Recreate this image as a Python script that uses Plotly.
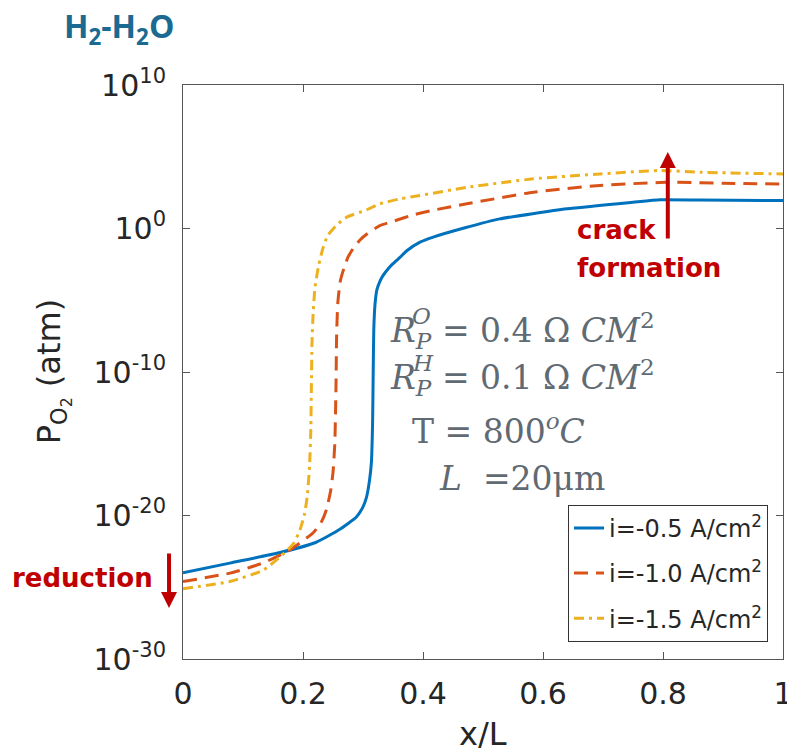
import plotly.graph_objects as go

# ---- data (x/L, log10 of P_O2 in atm) ----
x_05 = [0, 0.08, 0.16, 0.22, 0.26, 0.289, 0.300, 0.306, 0.311, 0.314, 0.316, 0.317, 0.318, 0.320, 0.323, 0.328, 0.333,
        0.342, 0.35, 0.362, 0.373, 0.395, 0.417, 0.47, 0.528, 0.64, 0.75, 0.795, 0.86, 1.0]
logp_05 = [-24.0, -23.3, -22.6, -21.9, -21.0, -20.1, -19.4, -18.7, -17.5, -16.3, -13.5, -10.0, -7.0, -5.3, -4.3, -3.7, -3.3,
           -2.8, -2.45, -2.0, -1.55, -0.95, -0.6, 0.05, 0.67, 1.37, 1.83, 2.0, 1.98, 1.95]

x_10 = [0, 0.08, 0.134, 0.178, 0.217, 0.23, 0.239, 0.246, 0.25, 0.253, 0.255, 0.256, 0.258, 0.262, 0.268, 0.275,
        0.285, 0.295, 0.306, 0.328, 0.35, 0.384, 0.42, 0.473, 0.584, 0.695, 0.806, 0.9, 1.0]
logp_10 = [-24.6, -24.0, -23.3, -22.4, -21.2, -20.5, -19.6, -18.3, -17.0, -15.0, -11.0, -7.5, -5.2, -3.7, -2.8, -2.0,
           -1.3, -0.8, -0.4, 0.2, 0.5, 0.95, 1.3, 1.72, 2.53, 3.0, 3.22, 3.15, 3.1]

x_15 = [0, 0.078, 0.134, 0.172, 0.185, 0.195, 0.202, 0.207, 0.211, 0.213, 0.214, 0.215, 0.217, 0.220, 0.226, 0.233,
        0.241, 0.256, 0.273, 0.306, 0.328, 0.362, 0.395, 0.473, 0.584, 0.695, 0.795, 0.862, 1.0]
logp_15 = [-25.1, -24.6, -23.8, -22.5, -21.9, -21.0, -20.0, -18.7, -16.5, -14.0, -11.0, -8.0, -5.8, -4.1, -2.6, -1.4,
           -0.5, 0.24, 0.79, 1.3, 1.72, 2.07, 2.3, 2.87, 3.46, 3.8, 4.04, 3.92, 3.8]

series_names = ["i=-0.5 A/cm<sup>2</sup>", "i=-1.0 A/cm<sup>2</sup>", "i=-1.5 A/cm<sup>2</sup>"]
x_ticks = [0, 0.2, 0.4, 0.6, 0.8, 1]
x_ticktext = ["0", "0.2", "0.4", "0.6", "0.8", "1"]
y_tickexp = [-30, -20, -10, 0, 10]

colors = ["#0072BD", "#D95319", "#EDB120"]
dashes = ["solid", "14px,8px", "10px,5px,3px,5px"]

fig = go.Figure()
for k, (xs, lp, name, c, d) in enumerate(zip([x_05, x_10, x_15], [logp_05, logp_10, logp_15], series_names, colors, dashes)):
    fig.add_trace(go.Scatter(
        x=xs, y=[10 ** v for v in lp], mode="lines", name=name, legendgroup="g%d" % k,
        line=dict(color=c, width=3, dash=d, shape="spline", smoothing=0.5),
    ))

axis_color = "#555555"
fig.update_layout(
    width=787, height=748,
    margin=dict(l=183, r=4, t=85, b=89, autoexpand=False),
    paper_bgcolor="white", plot_bgcolor="white",
    font=dict(family="DejaVu Sans", color="#262626"),
    showlegend=True,
    legend=dict(
        x=0.975, xanchor="right", y=0.03, yanchor="bottom",
        bgcolor="white", bordercolor="#333333", borderwidth=1,
        font=dict(family="DejaVu Sans", size=24, color="#262626"),
        tracegroupgap=11, itemwidth=30,
    ),
    xaxis=dict(
        range=[0, 1], tickvals=x_ticks, ticktext=x_ticktext, automargin=False,
        showgrid=False, zeroline=False, showline=True, linecolor=axis_color, linewidth=1,
        mirror="ticks", ticks="inside", ticklen=7, tickcolor=axis_color,
        tickfont=dict(size=30, color="#262626"), ticklabelstandoff=8, ticklabeloverflow="allow",
    ),
    yaxis=dict(
        type="log", range=[-30, 10], automargin=False,
        tickvals=[10 ** e for e in y_tickexp],
        ticktext=["10<sup>%d</sup>" % e for e in y_tickexp],
        showgrid=False, zeroline=False, showline=True, linecolor=axis_color, linewidth=1,
        mirror="ticks", ticks="inside", ticklen=7, tickcolor=axis_color,
        tickfont=dict(size=30, color="#262626"), ticklabelstandoff=10, ticklabeloverflow="allow",
    ),
)

red = "#C00000"
gray = "#5F6A73"
ann = []
# axis titles
ann.append(dict(text="x/L", xref="paper", yref="paper", x=0.5, y=-0.13, xanchor="center", yanchor="middle",
                showarrow=False, font=dict(size=32, color="#262626")))
ann.append(dict(text="P<sub>O<sub>2</sub></sub> (atm)", xref="paper", yref="paper", x=-0.218, y=0.5,
                xanchor="center", yanchor="middle", textangle=-90,
                showarrow=False, font=dict(size=32, color="#262626")))
# top-left label
ann.append(dict(text="<b>H<sub>2</sub>-H<sub>2</sub>O</b>", xref="paper", yref="paper", x=-0.202, y=1.099,
                xanchor="left", yanchor="middle", showarrow=False,
                font=dict(family="Open Sans", size=32, color="#1A6A92")))
# red annotations
ann.append(dict(text="<b>crack</b>", xref="paper", yref="paper", x=0.653, y=0.747, xanchor="left", yanchor="middle",
                showarrow=False, font=dict(size=26, color=red)))
ann.append(dict(text="<b>formation</b>", xref="paper", yref="paper", x=0.653, y=0.681, xanchor="left", yanchor="middle",
                showarrow=False, font=dict(size=26, color=red)))
ann.append(dict(text="<b>reduction</b>", xref="paper", yref="paper", x=-0.288, y=0.141, xanchor="left", yanchor="middle",
                showarrow=False, font=dict(size=26, color=red)))
ann.append(dict(text="", xref="paper", yref="paper", x=0.808, y=(659 - 152) / 574, ax=0, ay=88,
                showarrow=True, arrowhead=2, arrowsize=0.8, arrowwidth=4, arrowcolor=red))
ann.append(dict(text="", xref="paper", yref="paper", x=-0.0233, y=(659 - 608) / 574, ax=0, ay=-56,
                showarrow=True, arrowhead=2, arrowsize=0.8, arrowwidth=4, arrowcolor=red))
# parameter text
mf = dict(family="DejaVu Serif", size=33, color=gray)
ann.append(dict(text="<i>R</i><sub><i>P</i></sub> = 0.4 Ω <i>CM</i><sup>2</sup>", xref="paper", yref="paper",
                x=0.342, y=0.573, xanchor="left", yanchor="middle", showarrow=False, font=mf))
ann.append(dict(text="<i>O</i>", xref="paper", yref="paper", x=0.379, y=0.598, xanchor="left", yanchor="middle",
                showarrow=False, font=dict(family="DejaVu Serif", size=23, color=gray)))
ann.append(dict(text="<i>R</i><sub><i>P</i></sub> = 0.1 Ω <i>CM</i><sup>2</sup>", xref="paper", yref="paper",
                x=0.342, y=0.49, xanchor="left", yanchor="middle", showarrow=False, font=mf))
ann.append(dict(text="<i>H</i>", xref="paper", yref="paper", x=0.379, y=0.515, xanchor="left", yanchor="middle",
                showarrow=False, font=dict(family="DejaVu Serif", size=23, color=gray)))
ann.append(dict(text="T = 800<sup><i>o</i></sup><i>C</i>", xref="paper", yref="paper",
                x=0.378, y=0.399, xanchor="left", yanchor="middle", showarrow=False, font=mf))
ann.append(dict(text="<i>L</i>  =20μm", xref="paper", yref="paper",
                x=0.423, y=0.315, xanchor="left", yanchor="middle", showarrow=False, font=mf))
fig.update_layout(annotations=ann)

fig.write_html("out.html")
